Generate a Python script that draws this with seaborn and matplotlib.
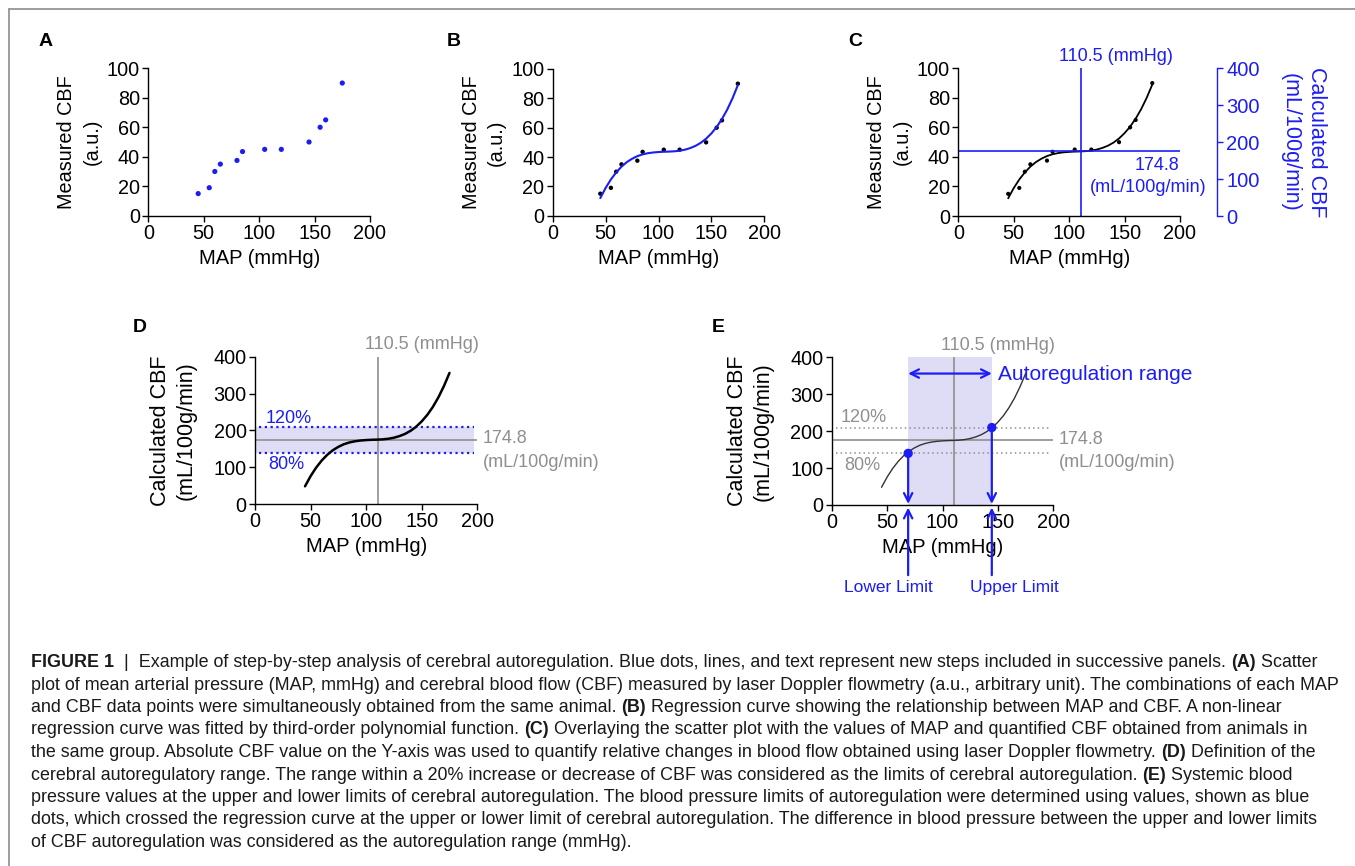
import numpy as np
import seaborn as sns
import matplotlib.pyplot as plt
from matplotlib.lines import Line2D

sns.set_theme(style="ticks")
plt.rcParams['font.family'] = ['Liberation Sans', 'DejaVu Sans']
plt.rcParams['text.color'] = 'black'
plt.rcParams['axes.labelcolor'] = 'black'

W, H = 1355, 866
BLUE = '#1c1cf5'
GREY = '#8f8f8f'
SHADE = '#dfddf6'

# measured CBF vs MAP (panels A-C)
map_pts = [45, 55, 60, 65, 80, 85, 105, 120, 145, 155, 160, 175]
cbf_pts = [15, 19, 30, 35, 37.5, 43.5, 45, 45, 50, 60, 65, 90]

# third-order regression curve
map_fit = [45, 50, 55, 60, 65, 70, 75, 80, 85, 90, 95, 100, 105, 110,
           115, 120, 125, 130, 135, 140, 145, 150, 155, 160, 165, 170, 175]
cbf_fit = [12.0, 18.9, 24.7, 29.5, 33.4, 36.5, 38.8, 40.6, 41.8, 42.6, 43.1,
           43.4, 43.6, 43.7, 43.9, 44.3, 45.0, 46.1, 47.6, 49.7, 52.5, 56.1,
           60.5, 65.9, 72.4, 80.1, 89.0]

calc_per_au = 4.0          # right axis of C: 0-100 a.u. <-> 0-400 mL/100g/min
calc_fit = [v * calc_per_au for v in cbf_fit]

plateau_map = 110.5
plateau_cbf = 174.8
upper_cbf = 209.8          # 120 %
lower_cbf = 139.8          # 80 %
lower_map = 69
upper_map = 144.5

caption = [
    [("FIGURE 1", 1), ("  |  Example of step-by-step analysis of cerebral autoregulation. Blue dots, lines, and text represent new steps included in successive panels. ", 0), ("(A)", 1), (" Scatter", 0)],
    [("plot of mean arterial pressure (MAP, mmHg) and cerebral blood flow (CBF) measured by laser Doppler flowmetry (a.u., arbitrary unit). The combinations of each MAP", 0)],
    [("and CBF data points were simultaneously obtained from the same animal. ", 0), ("(B)", 1), (" Regression curve showing the relationship between MAP and CBF. A non-linear", 0)],
    [("regression curve was fitted by third-order polynomial function. ", 0), ("(C)", 1), (" Overlaying the scatter plot with the values of MAP and quantified CBF obtained from animals in", 0)],
    [("the same group. Absolute CBF value on the Y-axis was used to quantify relative changes in blood flow obtained using laser Doppler flowmetry. ", 0), ("(D)", 1), (" Definition of the", 0)],
    [("cerebral autoregulatory range. The range within a 20% increase or decrease of CBF was considered as the limits of cerebral autoregulation. ", 0), ("(E)", 1), (" Systemic blood", 0)],
    [("pressure values at the upper and lower limits of cerebral autoregulation. The blood pressure limits of autoregulation were determined using values, shown as blue", 0)],
    [("dots, which crossed the regression curve at the upper or lower limit of cerebral autoregulation. The difference in blood pressure between the upper and lower limits", 0)],
    [("of CBF autoregulation was considered as the autoregulation range (mmHg).", 0)],
]


def box(x0, x1, ytop, ybot):
    return [x0 / W, 1 - ybot / H, (x1 - x0) / W, (ybot - ytop) / H]


def style(ax, ymax, ystep, ylabel, lsize, lpad, lspace):
    ax.set_xlim(0, 200)
    ax.set_ylim(0, ymax)
    ax.set_xticks([0, 50, 100, 150, 200])
    ax.set_yticks(np.arange(0, ymax + 1, ystep))
    sns.despine(ax=ax)
    for s in ('left', 'bottom'):
        ax.spines[s].set_linewidth(1.0)
        ax.spines[s].set_color('black')
    ax.tick_params(length=4, width=1.0, pad=2, labelsize=14.3, colors='black')
    ax.set_xlabel('MAP (mmHg)', fontsize=14.5, labelpad=4)
    ax.set_ylabel(ylabel, fontsize=lsize, labelpad=lpad, linespacing=lspace)


fig = plt.figure(figsize=(W / 100, H / 100), dpi=100)
fig.patch.set_facecolor('white')

axA = fig.add_axes(box(148.3, 370, 68.3, 215.7))
axB = fig.add_axes(box(552.7, 764.3, 69, 215.7))
axC = fig.add_axes(box(958.3, 1180, 68.3, 216))
axD = fig.add_axes(box(255, 477.3, 356.7, 504))
axE = fig.add_axes(box(831.7, 1053.3, 357.3, 505))

for ax in (axA, axB, axC):
    style(ax, 100, 20, 'Measured CBF\n(a.u.)', 14.3, 4, 1.4)
for ax in (axD, axE):
    style(ax, 400, 100, 'Calculated CBF\n(mL/100g/min)', 15.5, 12, 1.3)

# A
sns.scatterplot(x=map_pts, y=cbf_pts, ax=axA, color=BLUE, s=14,
                edgecolor='none', clip_on=False)

# B
sns.scatterplot(x=map_pts, y=cbf_pts, ax=axB, color='black', s=10,
                edgecolor='none', clip_on=False)
sns.lineplot(x=map_fit, y=cbf_fit, ax=axB, color=BLUE, lw=1.5)

# C
sns.scatterplot(x=map_pts, y=cbf_pts, ax=axC, color='black', s=9,
                edgecolor='none', clip_on=False)
sns.lineplot(x=map_fit, y=cbf_fit, ax=axC, color='black', lw=1.3)
axC.axvline(plateau_map, color=BLUE, lw=1.2)
axC.axhline(plateau_cbf / calc_per_au, color=BLUE, lw=1.2)
axC.text(142, 108, '110.5 (mmHg)', color=BLUE, fontsize=13,
         ha='center', va='center', clip_on=False)
axC.text(179.3, 34.5, '174.8', color=BLUE, fontsize=13, ha='center', va='center')
axC.text(171.2, 19.6, '(mL/100g/min)', color=BLUE, fontsize=13,
         ha='center', va='center', clip_on=False)
axC2 = axC.twinx()
axC2.set_ylim(0, 100 * calc_per_au)
axC2.set_yticks([0, 100, 200, 300, 400])
for s in ('left', 'top', 'bottom'):
    axC2.spines[s].set_visible(False)
axC2.spines['right'].set_position(('outward', 26.6))
axC2.spines['right'].set_color(BLUE)
axC2.spines['right'].set_linewidth(1.0)
axC2.tick_params(axis='y', colors=BLUE, length=4.3, width=1.0, pad=2.5,
                 labelsize=14.5)
axC2.set_ylabel('Calculated CBF\n(mL/100g/min)', color=BLUE, fontsize=15.5,
                rotation=270, labelpad=48, linespacing=1.3)

# D
axD.axhspan(lower_cbf, upper_cbf, xmin=0, xmax=197 / 200, color=SHADE, lw=0, zorder=0)
axD.axvline(plateau_map, color=GREY, lw=1.2)
axD.hlines(plateau_cbf, 0, 200, color=GREY, lw=1.2)
axD.hlines([upper_cbf, lower_cbf], 4, 197, color=BLUE, lw=1.6, linestyles=(0, (1, 1.6)))
sns.lineplot(x=map_fit, y=calc_fit, ax=axD, color='black', lw=1.8)
axD.text(150, 432, '110.5 (mmHg)', color=GREY, fontsize=13, ha='center', va='center', clip_on=False)
axD.text(30, 233, '120%', color=BLUE, fontsize=13, ha='center', va='center')
axD.text(28.5, 106, '80%', color=BLUE, fontsize=13, ha='center', va='center')
axD.text(205, 177, '174.8', color=GREY, fontsize=13, ha='left', va='center', clip_on=False)
axD.text(205, 113, '(mL/100g/min)', color=GREY, fontsize=13, ha='left', va='center', clip_on=False)

# E
axE.axvspan(lower_map, upper_map, color=SHADE, lw=0, zorder=0)
axE.axvline(plateau_map, color=GREY, lw=1.2)
axE.hlines(plateau_cbf, 0, 200, color=GREY, lw=1.2)
axE.hlines([upper_cbf, lower_cbf], 4, 197, color=GREY, lw=1.1, linestyles=(0, (1, 2)))
sns.lineplot(x=map_fit, y=calc_fit, ax=axE, color='#333333', lw=1.0)
sns.scatterplot(x=[lower_map, upper_map], y=[lower_cbf, upper_cbf], ax=axE,
                color=BLUE, s=45, edgecolor='none', zorder=5)
axE.text(150, 432, '110.5 (mmHg)', color=GREY, fontsize=13, ha='center', va='center', clip_on=False)
axE.text(29, 237, '120%', color=GREY, fontsize=13, ha='center', va='center')
axE.text(27.5, 108, '80%', color=GREY, fontsize=13, ha='center', va='center')
axE.text(205, 177, '174.8', color=GREY, fontsize=13, ha='left', va='center', clip_on=False)
axE.text(205, 115, '(mL/100g/min)', color=GREY, fontsize=13, ha='left', va='center', clip_on=False)
axE.text(150, 353, 'Autoregulation range', color=BLUE, fontsize=15, ha='left', va='center', clip_on=False)
arrow = dict(color=BLUE, lw=1.6, mutation_scale=15, shrinkA=0, shrinkB=0)
axE.annotate('', xy=(upper_map, 356), xytext=(lower_map, 356), arrowprops=dict(arrowstyle='<->', **arrow))
for xm, ym, name, xt in ((lower_map, lower_cbf, 'Lower Limit', 50.7),
                         (upper_map, upper_cbf, 'Upper Limit', 164.5)):
    axE.annotate('', xy=(xm, 3), xytext=(xm, ym), arrowprops=dict(arrowstyle='->', **arrow))
    axE.annotate('', xy=(xm, -7), xytext=(xm, -190), annotation_clip=False,
                 arrowprops=dict(arrowstyle='->', **arrow))
    axE.text(xt, -224, name, color=BLUE, fontsize=12.5, ha='center', va='center', clip_on=False)

# panel letters
for letter, x, y in (('A', 39, 41), ('B', 447, 41), ('C', 848, 42), ('D', 133, 327), ('E', 712, 327)):
    fig.text(x / W, 1 - y / H, letter, fontsize=14, fontweight='bold', ha='left', va='center')

# frame
fig.add_artist(Line2D([9 / W, 1], [1 - 9 / H, 1 - 9 / H], transform=fig.transFigure, color='#8c8c8c', lw=1.2))
fig.add_artist(Line2D([9 / W, 9 / W], [0, 1 - 9 / H], transform=fig.transFigure, color='#8c8c8c', lw=1.2))

# caption
cap = fig.add_axes([0, 0, 1, 1], zorder=-1)
cap.axis('off')
cap.set_xlim(0, W)
cap.set_ylim(H, 0)
for i, line in enumerate(caption):
    prev = None
    for seg, bold in line:
        kw = dict(fontsize=12.85, color='#1a1a1a', fontweight='bold' if bold else 'normal',
                  ha='left', va='bottom')
        if prev is None:
            prev = cap.text(31, 671 + 22.5 * i, seg, **kw)
        else:
            prev = cap.annotate(seg, xy=(1, 0), xycoords=prev, **kw)

fig.savefig('out.png', dpi=100, facecolor='white')
